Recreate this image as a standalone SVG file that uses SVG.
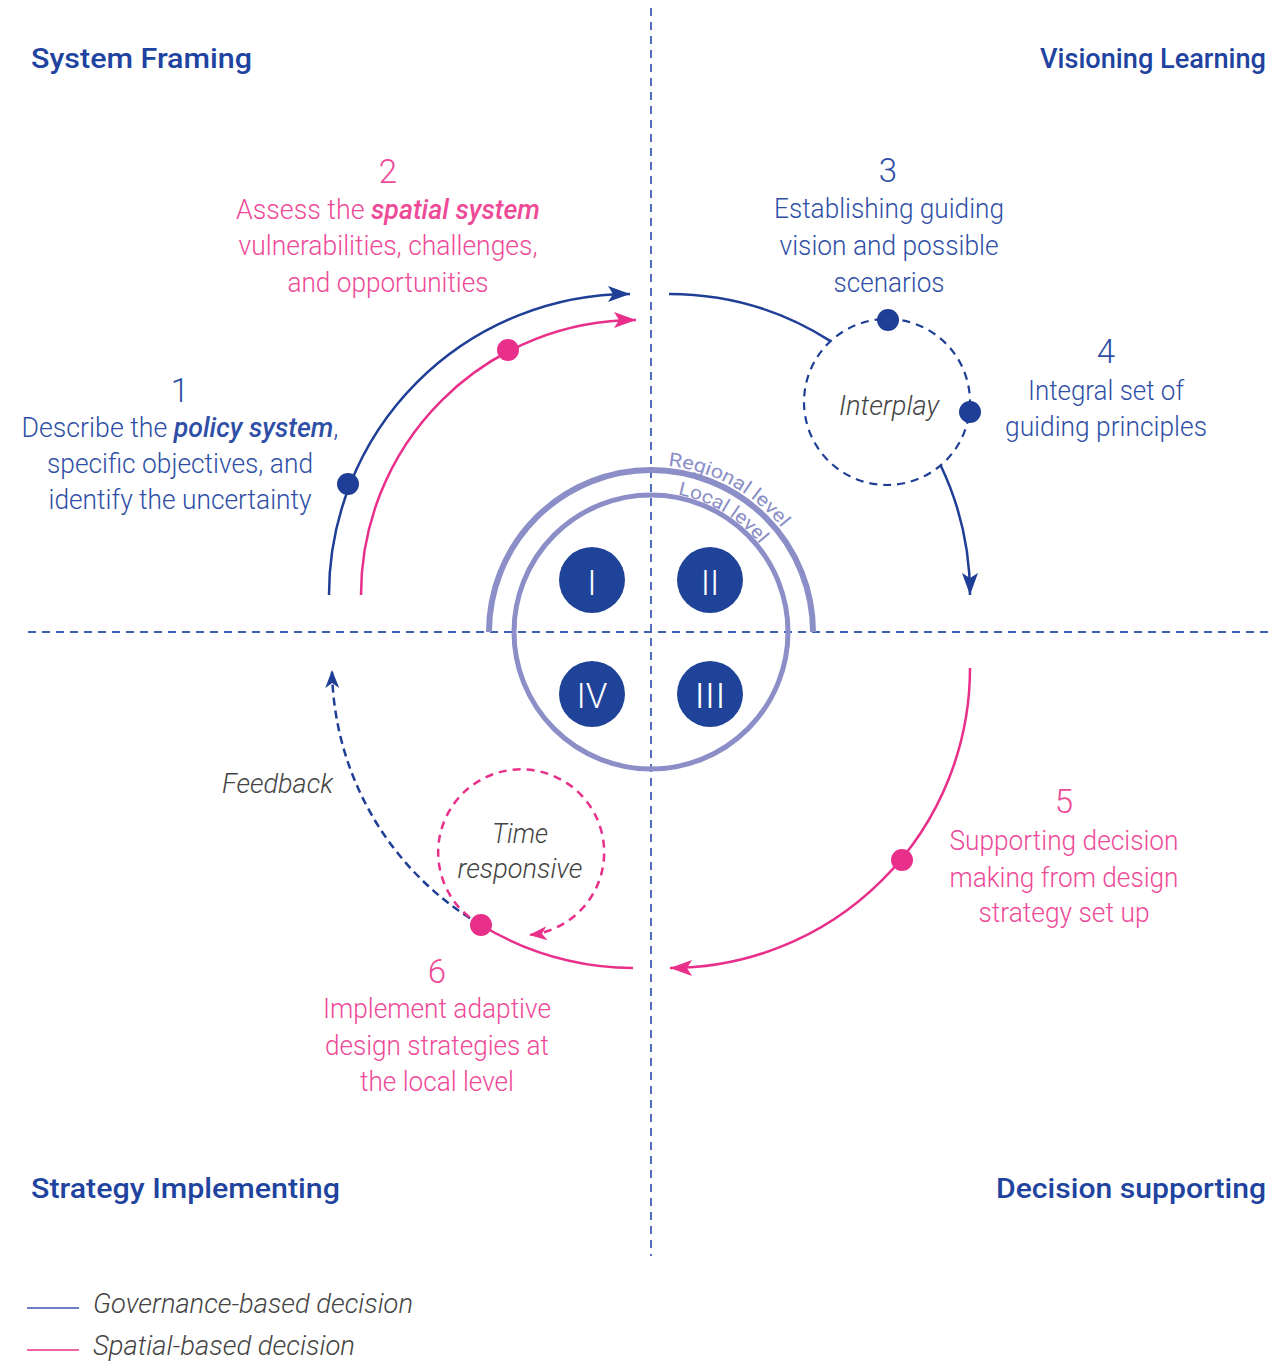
<svg xmlns="http://www.w3.org/2000/svg" width="1272" height="1363" viewBox="0 0 1272 1363">
<style>
.title{font-family:Roboto,"Liberation Sans",sans-serif;font-weight:500;font-size:28px;fill:#2143a0}
.bt{font-family:Roboto,"Liberation Sans",sans-serif;font-weight:300;font-size:27px;fill:#2f4fa6;text-anchor:middle}
.pt{font-family:Roboto,"Liberation Sans",sans-serif;font-weight:300;font-size:27px;fill:#ee4a98;text-anchor:middle}
.num{font-size:33px}
.em{font-weight:500;font-style:italic}
.gi{font-family:Roboto,"Liberation Sans",sans-serif;font-weight:300;font-style:italic;font-size:27px;fill:#444}
.lvl{font-family:Roboto,"Liberation Sans",sans-serif;font-weight:400;font-size:19px;fill:#8b8ec7}
.rom{font-family:Roboto,"Liberation Sans",sans-serif;font-weight:300;font-size:35px;fill:#fff;text-anchor:middle}
.axis{fill:none;stroke:#3f5fb8;stroke-width:1.8;stroke-dasharray:8 6}
.blue{fill:none;stroke:#1f3f96;stroke-width:2.5}
.pink{fill:none;stroke:#e8308b;stroke-width:2.5}
.ring{fill:none;stroke:#8b8ec7}
.bdot{fill:#1f3f96}
.pdot{fill:#e8308b}
.rc{fill:#1f4398}
</style>
<defs>
<marker id="ab" markerUnits="userSpaceOnUse" markerWidth="24" markerHeight="18" viewBox="0 0 24 18" refX="22" refY="8" orient="auto"><path d="M0,0 L22,8 L0,16 L5,8 Z" fill="#1f3f96"/></marker>
<marker id="ap" markerUnits="userSpaceOnUse" markerWidth="24" markerHeight="18" viewBox="0 0 24 18" refX="22" refY="8" orient="auto"><path d="M0,0 L22,8 L0,16 L5,8 Z" fill="#e8308b"/></marker>
<marker id="abs" markerUnits="userSpaceOnUse" markerWidth="20" markerHeight="16" viewBox="0 0 20 16" refX="18" refY="7" orient="auto"><path d="M0,0 L18,7 L0,14 L5,7 Z" fill="#1f3f96"/></marker>
<marker id="aps" markerUnits="userSpaceOnUse" markerWidth="20" markerHeight="16" viewBox="0 0 20 16" refX="18" refY="7" orient="auto"><path d="M0,0 L18,7 L0,14 L5,7 Z" fill="#e8308b"/></marker>
<path id="regPath" d="M651,465 A167,167 0 0 1 818,632"/>
<path id="locPath" d="M651,492 A140,140 0 0 1 791,632"/>
</defs>
<rect width="1272" height="1363" fill="#fff"/>

<g id="axes">
<line class="axis" x1="651" y1="8" x2="651" y2="1256"/>
<line class="axis" x1="28" y1="632" x2="1272" y2="632"/>
</g>

<g id="titles">
<text class="title" x="31" y="68" textLength="221" lengthAdjust="spacingAndGlyphs">System Framing</text>
<text class="title" x="1040" y="68" textLength="226" lengthAdjust="spacingAndGlyphs">Visioning Learning</text>
<text class="title" x="31" y="1198" textLength="309" lengthAdjust="spacingAndGlyphs">Strategy Implementing</text>
<text class="title" x="996" y="1198" textLength="270" lengthAdjust="spacingAndGlyphs">Decision supporting</text>
</g>

<g id="center">
<path class="ring" stroke-width="6" d="M489,632 A162,162 0 0 1 813,632"/>
<circle class="ring" stroke-width="5" cx="651" cy="632" r="137"/>
<text class="lvl"><textPath href="#regPath" startOffset="17" textLength="133" lengthAdjust="spacingAndGlyphs">Regional level</textPath></text>
<text class="lvl"><textPath href="#locPath" startOffset="27" textLength="98" lengthAdjust="spacingAndGlyphs">Local level</textPath></text>
<g id="q1"><circle class="rc" cx="592" cy="580" r="33"/><text class="rom" x="592" y="595">I</text></g>
<g id="q2"><circle class="rc" cx="710" cy="580" r="33"/><text class="rom" x="710" y="595">II</text></g>
<g id="q4"><circle class="rc" cx="592" cy="694" r="33"/><text class="rom" x="592" y="708">IV</text></g>
<g id="q3"><circle class="rc" cx="710" cy="694" r="33"/><text class="rom" x="710" y="708" textLength="31" lengthAdjust="spacingAndGlyphs">III</text></g>
</g>

<g id="connectors">
<path class="blue" d="M329,595 A301,301 0 0 1 630,294" marker-end="url(#ab)"/>
<path class="pink" d="M361,595 A275,275 0 0 1 636,320" marker-end="url(#ap)"/>
<path class="blue" d="M669,294 A301,301 0 0 1 830.5,341.1"/>
<path class="blue" d="M940.7,465.5 A301,301 0 0 1 970,595" marker-end="url(#ab)"/>
<path class="pink" d="M970,668 A300,300 0 0 1 670,968" marker-end="url(#ap)"/>
<path class="pink" d="M633,968 A300,300 0 0 1 481,925"/>
<path class="blue" stroke-width="2.2" stroke-dasharray="8 5" d="M481,925 A300,300 0 0 1 332,670" marker-end="url(#abs)"/>
<path class="pink" stroke-width="2.2" stroke-dasharray="8 6" d="M481,925 A83,83 0 1 1 529,935" marker-end="url(#aps)"/>
</g>

<g id="interplay">
<circle cx="887" cy="402" r="83" fill="none" stroke="#1f3f96" stroke-width="2.2" stroke-dasharray="8 6"/>
<text class="gi" x="889" y="415" text-anchor="middle" textLength="100" lengthAdjust="spacingAndGlyphs">Interplay</text>
</g>

<g id="time-responsive">
<text class="gi" x="520" y="843" text-anchor="middle" textLength="56" lengthAdjust="spacingAndGlyphs">Time</text>
<text class="gi" x="520" y="878" text-anchor="middle" textLength="125" lengthAdjust="spacingAndGlyphs">responsive</text>
</g>

<g id="feedback">
<text class="gi" x="222" y="793" textLength="111" lengthAdjust="spacingAndGlyphs">Feedback</text>
</g>

<g id="dots">
<circle class="bdot" cx="348" cy="484" r="11"/>
<circle class="pdot" cx="508" cy="350" r="11"/>
<circle class="bdot" cx="888" cy="320" r="11"/>
<circle class="bdot" cx="970" cy="412" r="11"/>
<circle class="pdot" cx="902" cy="860" r="11"/>
<circle class="pdot" cx="481" cy="925" r="11"/>
</g>

<g id="step1">
<text class="bt num" x="180" y="402">1</text>
<text class="bt" x="180" y="437" textLength="317" lengthAdjust="spacingAndGlyphs">Describe the <tspan class="em">policy system</tspan>,</text>
<text class="bt" x="180" y="473" textLength="266" lengthAdjust="spacingAndGlyphs">specific objectives, and</text>
<text class="bt" x="180" y="509" textLength="263" lengthAdjust="spacingAndGlyphs">identify the uncertainty</text>
</g>

<g id="step2">
<text class="pt num" x="388" y="183">2</text>
<text class="pt" x="388" y="219" textLength="304" lengthAdjust="spacingAndGlyphs">Assess the <tspan class="em">spatial system</tspan></text>
<text class="pt" x="388" y="255" textLength="299" lengthAdjust="spacingAndGlyphs">vulnerabilities, challenges,</text>
<text class="pt" x="388" y="292" textLength="201" lengthAdjust="spacingAndGlyphs">and opportunities</text>
</g>

<g id="step3">
<text class="bt num" x="888" y="182">3</text>
<text class="bt" x="889" y="218" textLength="230" lengthAdjust="spacingAndGlyphs">Establishing guiding</text>
<text class="bt" x="889" y="255" textLength="219" lengthAdjust="spacingAndGlyphs">vision and possible</text>
<text class="bt" x="889" y="292" textLength="111" lengthAdjust="spacingAndGlyphs">scenarios</text>
</g>

<g id="step4">
<text class="bt num" x="1106" y="363">4</text>
<text class="bt" x="1106" y="400" textLength="156" lengthAdjust="spacingAndGlyphs">Integral set of</text>
<text class="bt" x="1106" y="436" textLength="202" lengthAdjust="spacingAndGlyphs">guiding principles</text>
</g>

<g id="step5">
<text class="pt num" x="1064" y="813">5</text>
<text class="pt" x="1064" y="850" textLength="229" lengthAdjust="spacingAndGlyphs">Supporting decision</text>
<text class="pt" x="1064" y="887" textLength="229" lengthAdjust="spacingAndGlyphs">making from design</text>
<text class="pt" x="1064" y="922" textLength="171" lengthAdjust="spacingAndGlyphs">strategy set up</text>
</g>

<g id="step6">
<text class="pt num" x="437" y="983">6</text>
<text class="pt" x="437" y="1018" textLength="228" lengthAdjust="spacingAndGlyphs">Implement adaptive</text>
<text class="pt" x="437" y="1055" textLength="224" lengthAdjust="spacingAndGlyphs">design strategies at</text>
<text class="pt" x="437" y="1091" textLength="154" lengthAdjust="spacingAndGlyphs">the local level</text>
</g>

<g id="legend">
<line x1="27" y1="1308" x2="79" y2="1308" stroke="#3a55b5" stroke-width="1.6"/>
<line x1="27" y1="1350" x2="79" y2="1350" stroke="#e8308b" stroke-width="1.6"/>
<text class="gi" x="93" y="1313" textLength="320" lengthAdjust="spacingAndGlyphs">Governance-based decision</text>
<text class="gi" x="93" y="1355" textLength="262" lengthAdjust="spacingAndGlyphs">Spatial-based decision</text>
</g>
</svg>
